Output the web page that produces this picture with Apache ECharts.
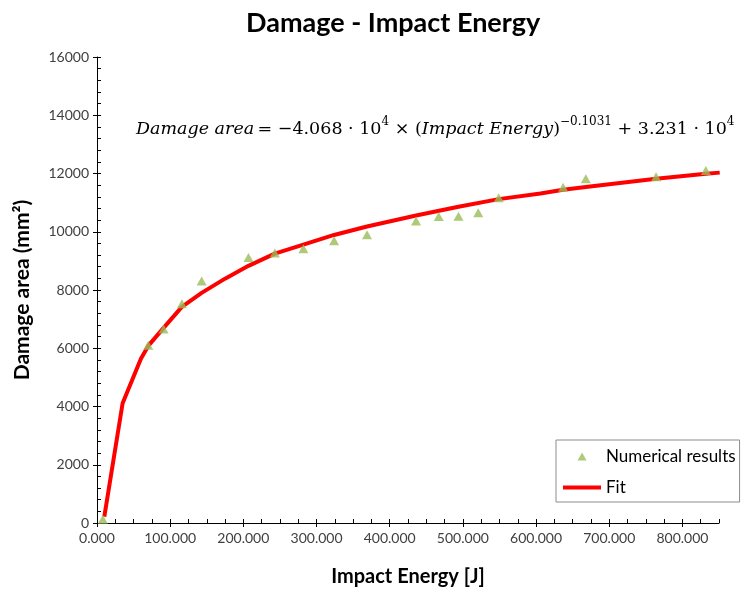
<!DOCTYPE html>
<html>
<head>
<meta charset="utf-8">
<script src="https://cdn.jsdelivr.net/npm/echarts@6/dist/echarts.min.js"></script>
<style>
  html, body { margin: 0; padding: 0; background: #fff; }
  #chart { width: 741px; height: 589px; }
</style>
</head>
<body>
<div id="chart"></div>
<script>
// Numerical results: impact energy [J] and damage area [mm²]
const energy = [8, 70, 91, 116, 143, 207, 243, 282, 324, 369, 436, 467, 494, 521, 549, 637, 668, 764, 832];
const damage = [130, 6100, 6660, 7530, 8310, 9120, 9270, 9420, 9690, 9900, 10370, 10520, 10530, 10650, 11170, 11530, 11820, 11890, 12100];

// Fitted curve, sampled along the energy range
const fitEnergy = [10, 35, 60, 70, 91, 116, 143, 175, 207, 243, 282, 324, 369, 436, 494, 549, 606, 637, 668, 764, 832, 851];
const fitDamage = [220, 4110, 5640, 6080, 6700, 7420, 7900, 8390, 8830, 9250, 9555, 9890, 10180, 10560, 10860, 11120, 11310, 11440, 11540, 11820, 11990, 12030];

// Axis ticks
const xMajorTicks = [0, 100, 200, 300, 400, 500, 600, 700, 800];
const xMax = 850;
const yMax = 16000;

const FONT = 'Lato, "Open Sans", sans-serif';
const MATH_FONT = '"DejaVu Serif", serif';
const AXIS_COLOR = '#000';
const LABEL_COLOR = '#404040';

const pairs = (xs, ys) => xs.map((x, i) => [x, ys[i]]);

const chart = echarts.init(document.getElementById('chart'), null, { renderer: 'canvas' });

chart.setOption({
  backgroundColor: '#fff',
  animation: false,
  title: {
    text: 'Damage - Impact Energy',
    left: 241,
    top: 5,
    textStyle: { fontFamily: FONT, fontSize: 27, fontWeight: 'bold', color: '#000' }
  },
  grid: { left: 97, right: 22, top: 57, bottom: 66, outerBoundsMode: 'none', containLabel: false },
  legend: {
    orient: 'vertical',
    left: 556,
    top: 440,
    padding: [8, 4, 6, 7],
    itemGap: 14,
    itemWidth: 38,
    itemHeight: 8,
    borderColor: '#8c8c8c',
    borderWidth: 1,
    borderRadius: 0,
    textStyle: { fontFamily: FONT, fontSize: 17, color: '#000' },
    data: [
      { name: 'Numerical results', icon: 'path://M4.5,0 L9,8 L0,8 Z', itemStyle: { color: '#9bbb59' } },
      { name: 'Fit', icon: 'path://M0,0 L38,0 L38,4 L0,4 Z', itemStyle: { color: '#ff0000' } }
    ]
  },
  xAxis: [
    {
      type: 'value', min: 0, max: xMax, interval: 100,
      name: 'Impact Energy [J]', nameLocation: 'middle', nameGap: 44,
      nameTextStyle: { fontFamily: FONT, fontSize: 20, fontWeight: 'bold', color: '#000' },
      axisLine: { show: true, onZero: false, lineStyle: { color: AXIS_COLOR, width: 1 } },
      axisTick: { show: true, inside: false, length: 4, customValues: xMajorTicks, lineStyle: { color: AXIS_COLOR } },
      axisLabel: {
        fontFamily: FONT, fontSize: 14, color: LABEL_COLOR, margin: 8,
        customValues: xMajorTicks,
        formatter: v => v.toFixed(3)
      },
      splitLine: { show: false }
    },
    {
      type: 'value', min: 0, max: xMax, interval: 25, position: 'bottom', offset: 0,
      axisLine: { show: false },
      axisTick: { show: true, inside: true, length: 4, lineStyle: { color: AXIS_COLOR } },
      axisLabel: { show: false },
      splitLine: { show: false }
    }
  ],
  yAxis: [
    {
      type: 'value', min: 0, max: yMax, interval: 2000,
      name: 'Damage area (mm²)', nameLocation: 'middle', nameGap: 64, nameRotate: 90,
      nameTextStyle: { fontFamily: FONT, fontSize: 21, fontWeight: 'bold', color: '#000' },
      axisLine: { show: true, onZero: false, lineStyle: { color: AXIS_COLOR, width: 1 } },
      axisTick: { show: true, inside: false, length: 4, lineStyle: { color: AXIS_COLOR } },
      axisLabel: { fontFamily: FONT, fontSize: 14, color: LABEL_COLOR, margin: 8, formatter: v => String(v) },
      splitLine: { show: false }
    },
    {
      type: 'value', min: 0, max: yMax, interval: 400, position: 'left', offset: 0,
      axisLine: { show: false },
      axisTick: { show: true, inside: true, length: 4, lineStyle: { color: AXIS_COLOR } },
      axisLabel: { show: false },
      splitLine: { show: false }
    }
  ],
  graphic: [
    {
      type: 'text',
      left: 136,
      top: 116,
      style: {
        text: '{i|Damage area} {n|= −4.068 · 10}{s|4}{n| × (}{i|Impact Energy}{n|)}{s|−0.1031}{n| + 3.231 · 10}{s|4}',
        fill: '#000',
        rich: {
          i: { fontFamily: MATH_FONT, fontStyle: 'italic', fontSize: 17.5, lineHeight: 26, fill: '#000' },
          n: { fontFamily: MATH_FONT, fontSize: 17.5, lineHeight: 26, fill: '#000' },
          s: { fontFamily: MATH_FONT, fontSize: 12, lineHeight: 14, verticalAlign: 'top', fill: '#000' }
        }
      }
    }
  ],
  series: [
    {
      name: 'Fit',
      type: 'line',
      xAxisIndex: 0, yAxisIndex: 0,
      data: pairs(fitEnergy, fitDamage),
      symbol: 'none',
      smooth: false,
      lineStyle: { color: '#ff0000', width: 4 },
      itemStyle: { color: '#ff0000' },
      z: 2
    },
    {
      name: 'Numerical results',
      type: 'scatter',
      xAxisIndex: 0, yAxisIndex: 0,
      data: pairs(energy, damage),
      symbol: 'triangle',
      symbolSize: [10, 9],
      itemStyle: { color: '#9bbb59' },
      z: 3
    }
  ]
});
</script>
</body>
</html>
